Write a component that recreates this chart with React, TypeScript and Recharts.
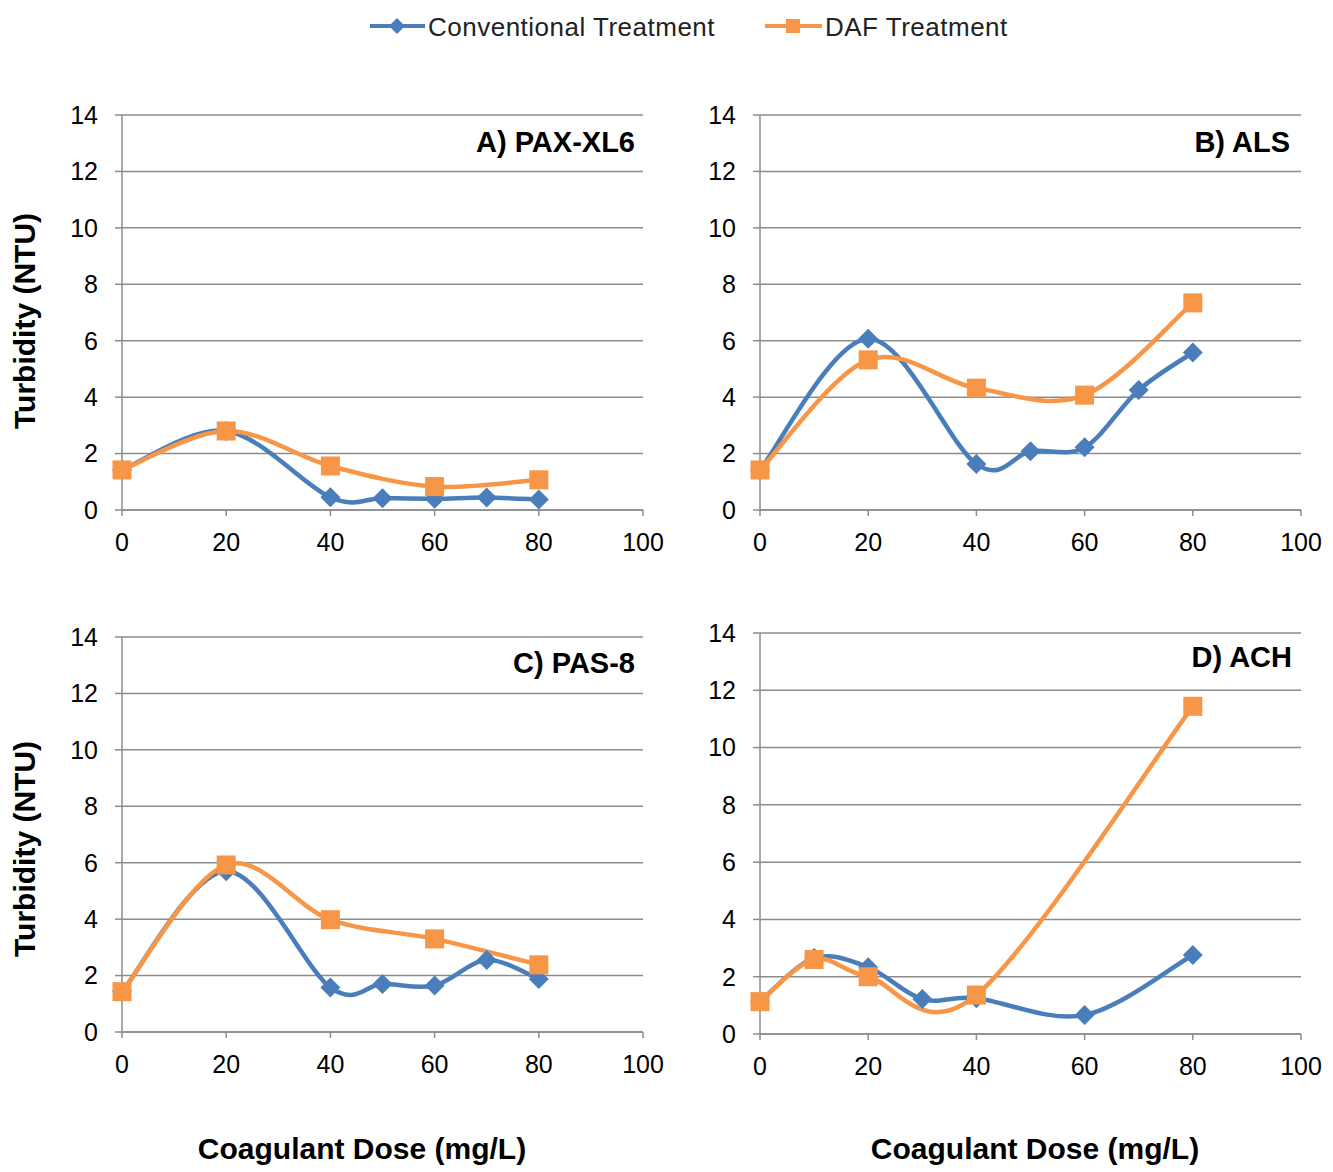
import React from 'react';
import { LineChart, Line, XAxis, YAxis, CartesianGrid } from 'recharts';

// ---------- data ----------
const xTicks = [0, 20, 40, 60, 80, 100];
const yTicks = [0, 2, 4, 6, 8, 10, 12, 14];

const doseConvA = [0, 20, 40, 50, 60, 70, 80];
const convA = [1.42, 2.8, 0.45, 0.42, 0.4, 0.44, 0.37];
const doseDafA = [0, 20, 40, 60, 80];
const dafA = [1.42, 2.8, 1.56, 0.83, 1.07];

const doseConvB = [0, 20, 40, 50, 60, 70, 80];
const convB = [1.42, 6.07, 1.63, 2.08, 2.22, 4.25, 5.58];
const doseDafB = [0, 20, 40, 60, 80];
const dafB = [1.42, 5.32, 4.32, 4.07, 7.34];

const doseConvC = [0, 20, 40, 50, 60, 70, 80];
const convC = [1.43, 5.7, 1.58, 1.7, 1.65, 2.55, 1.88];
const doseDafC = [0, 20, 40, 60, 80];
const dafC = [1.43, 5.92, 3.98, 3.3, 2.38];

const doseConvD = [0, 10, 20, 30, 40, 60, 80];
const convD = [1.13, 2.65, 2.33, 1.22, 1.25, 0.66, 2.76];
const doseDafD = [0, 10, 20, 40, 80];
const dafD = [1.13, 2.6, 2.0, 1.36, 11.44];

const seriesNames = ['Conventional Treatment', 'DAF Treatment'];
const panelTitles = ['A) PAX-XL6', 'B) ALS', 'C) PAS-8', 'D) ACH'];
const yLabel = 'Turbidity (NTU)';
const xLabel = 'Coagulant Dose (mg/L)';

// ---------- styles ----------
const BLUE = '#4a7ebb';
const ORANGE = '#f79646';
const GRID = '#8c8c8c';
const FONT = '"Liberation Sans", Arial, sans-serif';

const toPoints = (xs: number[], ys: number[]) => xs.map((x, i) => ({ x, y: ys[i] }));

// Excel-like smoothing (Catmull-Rom bezier)
const excelSmooth = (context: any) => {
  let pts: number[][] = [];
  return {
    areaStart() {},
    areaEnd() {},
    lineStart() {
      pts = [];
    },
    point(x: number, y: number) {
      pts.push([+x, +y]);
    },
    lineEnd() {
      const n = pts.length;
      if (!n) return;
      context.moveTo(pts[0][0], pts[0][1]);
      for (let i = 0; i < n - 1; i++) {
        const p0 = pts[Math.max(i - 1, 0)];
        const p1 = pts[i];
        const p2 = pts[i + 1];
        const p3 = pts[Math.min(i + 2, n - 1)];
        context.bezierCurveTo(
          p1[0] + (p2[0] - p0[0]) / 6,
          p1[1] + (p2[1] - p0[1]) / 6,
          p2[0] - (p3[0] - p1[0]) / 6,
          p2[1] - (p3[1] - p1[1]) / 6,
          p2[0],
          p2[1]
        );
      }
    },
  };
};

const DiamondDot = (props: any) => {
  const { cx, cy, index } = props;
  if (cx == null || cy == null) return <g key={`dd-${index}`} />;
  const r = 10;
  return (
    <polygon
      key={`dd-${index}`}
      points={`${cx},${cy - r} ${cx + r},${cy} ${cx},${cy + r} ${cx - r},${cy}`}
      fill={BLUE}
    />
  );
};

const SquareDot = (props: any) => {
  const { cx, cy, index } = props;
  if (cx == null || cy == null) return <g key={`sd-${index}`} />;
  const s = 19;
  return <rect key={`sd-${index}`} x={cx - s / 2} y={cy - s / 2} width={s} height={s} fill={ORANGE} />;
};

type PanelProps = {
  left: number;
  top: number;
  w: number;
  h: number;
  conv: { x: number; y: number }[];
  daf: { x: number; y: number }[];
};

const Panel = ({ left, top, w, h, conv, daf }: PanelProps) => {
  const W = w + 140;
  const H = h + 80;
  return (
    <div style={{ position: 'absolute', left: left - 100, top: top - 20, width: W, height: H }}>
      <LineChart width={W} height={H} margin={{ top: 20, right: 40, bottom: 20, left: 40 }}>
        <CartesianGrid vertical={false} stroke={GRID} strokeWidth={1.5} />
        <XAxis
          type="number"
          dataKey="x"
          domain={[0, 100]}
          ticks={xTicks}
          height={40}
          tickSize={6}
          tickMargin={17}
          axisLine={{ stroke: GRID, strokeWidth: 1.5 }}
          tickLine={{ stroke: GRID, strokeWidth: 1.5 }}
          tick={{ fill: '#000', fontSize: 25, fontFamily: FONT }}
        />
        <YAxis
          type="number"
          domain={[0, 14]}
          ticks={yTicks}
          width={60}
          tickSize={7}
          tickMargin={17}
          axisLine={{ stroke: GRID, strokeWidth: 1.5 }}
          tickLine={{ stroke: GRID, strokeWidth: 1.5 }}
          tick={{ fill: '#000', fontSize: 25, fontFamily: FONT }}
        />
        <Line
          data={conv}
          dataKey="y"
          name={seriesNames[0]}
          type={excelSmooth as any}
          stroke={BLUE}
          strokeWidth={4.5}
          dot={DiamondDot}
          activeDot={false}
          isAnimationActive={false}
        />
        <Line
          data={daf}
          dataKey="y"
          name={seriesNames[1]}
          type={excelSmooth as any}
          stroke={ORANGE}
          strokeWidth={4.5}
          dot={SquareDot}
          activeDot={false}
          isAnimationActive={false}
        />
      </LineChart>
    </div>
  );
};

export default function App() {
  const titleStyle = { fontFamily: FONT, fontWeight: 700, fontSize: 29, fill: '#000' } as const;
  const labelStyle = { fontFamily: FONT, fontWeight: 700, fontSize: 30, fill: '#000' } as const;
  const legendStyle = { fontFamily: FONT, fontSize: 26, fill: '#222', letterSpacing: 0.5 } as const;
  return (
    <div style={{ position: 'absolute', left: 0, top: 0, width: 1333, height: 1172, background: '#fff' }}>
      <Panel left={122} top={115} w={521} h={395} conv={toPoints(doseConvA, convA)} daf={toPoints(doseDafA, dafA)} />
      <Panel left={760} top={115} w={541} h={395} conv={toPoints(doseConvB, convB)} daf={toPoints(doseDafB, dafB)} />
      <Panel left={122} top={637} w={521} h={395} conv={toPoints(doseConvC, convC)} daf={toPoints(doseDafC, dafC)} />
      <Panel left={760} top={633} w={541} h={401} conv={toPoints(doseConvD, convD)} daf={toPoints(doseDafD, dafD)} />
      <svg
        width={1333}
        height={1172}
        style={{ position: 'absolute', left: 0, top: 0, pointerEvents: 'none' }}
      >
        {/* legend */}
        <line x1={370} y1={26} x2={425} y2={26} stroke={BLUE} strokeWidth={4} />
        <polygon points="397,18 405,26 397,34 389,26" fill={BLUE} />
        <text x={428} y={36} style={legendStyle}>{seriesNames[0]}</text>
        <line x1={765} y1={26} x2={822} y2={26} stroke={ORANGE} strokeWidth={4} />
        <rect x={786} y={19} width={14} height={14} fill={ORANGE} />
        <text x={825} y={36} style={legendStyle}>{seriesNames[1]}</text>

        {/* panel titles */}
        <text x={635} y={152} textAnchor="end" style={titleStyle}>{panelTitles[0]}</text>
        <text x={1290} y={152} textAnchor="end" style={titleStyle}>{panelTitles[1]}</text>
        <text x={635} y={673} textAnchor="end" style={titleStyle}>{panelTitles[2]}</text>
        <text x={1292} y={667} textAnchor="end" style={titleStyle}>{panelTitles[3]}</text>

        {/* axis titles */}
        <text x={35} y={321} textAnchor="middle" transform="rotate(-90 35 321)" style={labelStyle}>{yLabel}</text>
        <text x={35} y={849} textAnchor="middle" transform="rotate(-90 35 849)" style={labelStyle}>{yLabel}</text>
        <text x={362} y={1159} textAnchor="middle" style={labelStyle}>{xLabel}</text>
        <text x={1035} y={1159} textAnchor="middle" style={labelStyle}>{xLabel}</text>
      </svg>
    </div>
  );
}
